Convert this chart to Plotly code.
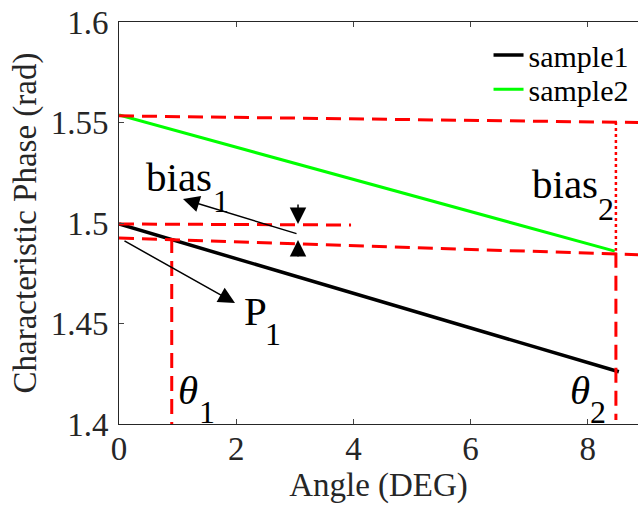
import plotly.graph_objects as go

# ---- data ----
angle_s1 = [0.0, 8.53]
phase_s1 = [1.4995, 1.426]
angle_s2 = [0.0, 8.46]
phase_s2 = [1.5537, 1.486]

# reference (guide) lines
upper_x = [0.0, 8.86]
upper_y = [1.5533, 1.5500]
bias1_x = [0.0, 3.96]
bias1_y = [1.4995, 1.4990]
lower_x = [0.0, 8.86]
lower_y = [1.4925, 1.4842]
theta1_x = [0.90, 0.90]
theta1_y = [1.4925, 1.400]
theta2_x = [8.48, 8.48]
theta2_y = [1.4852, 1.402]
bias2_x = [8.48, 8.48]
bias2_y = [1.5502, 1.4862]

x_ticks = [0, 2, 4, 6, 8]
y_ticks = [1.4, 1.45, 1.5, 1.55, 1.6]
y_tick_labels = ["1.4", "1.45", "1.5", "1.55", "1.6"]

FONT = "Liberation Serif"
RED = "#ff0000"
AX = "#262626"

fig = go.Figure()
fig.add_trace(go.Scatter(x=angle_s1, y=phase_s1, mode="lines", name="sample1", legend="legend",
                         line=dict(color="black", width=3.5)))
fig.add_trace(go.Scatter(x=angle_s2, y=phase_s2, mode="lines", name="sample2", legend="legend2",
                         line=dict(color="#00ff00", width=3)))

dash = "15px,8px"
for xs, ys, d in [(upper_x, upper_y, dash), (bias1_x, bias1_y, dash), (lower_x, lower_y, dash),
                  (theta1_x, theta1_y, dash), (theta2_x, theta2_y, dash)]:
    fig.add_trace(go.Scatter(x=xs, y=ys, mode="lines", showlegend=False, hoverinfo="skip",
                             line=dict(color=RED, width=3, dash=d)))
fig.add_trace(go.Scatter(x=bias2_x, y=bias2_y, mode="lines", showlegend=False, hoverinfo="skip",
                         line=dict(color=RED, width=2.5, dash="3px,3px")))

ann = []
def arrow(tx, ty, hx, hy):
    ann.append(dict(x=hx, y=hy, ax=tx, ay=ty, xref="x", yref="y", axref="x", ayref="y",
                    text="", showarrow=True, arrowhead=2, arrowsize=2.2, arrowwidth=1.5,
                    arrowcolor="black"))

arrow(3.055, 1.4945, 1.092, 1.5119)
arrow(3.055, 1.5100, 3.055, 1.4995)
arrow(3.055, 1.4826, 3.055, 1.4915)
arrow(0.068, 1.4915, 1.98, 1.4602)

def txt(x, y, t, size):
    ann.append(dict(x=x, y=y, xref="x", yref="y", text=t, showarrow=False,
                    font=dict(family=FONT, size=size, color="black")))

big, small = 41, 32
txt(1.024, 1.5229, "bias", big)
txt(1.741, 1.5109, "1", small)
txt(7.611, 1.5195, "bias", big)
txt(8.311, 1.5070, "2", small)
txt(2.321, 1.4562, "P", big)
txt(2.628, 1.4448, "1", small)
txt(1.177, 1.4169, "<i>θ</i>", big)
txt(1.502, 1.4060, "1", small)
txt(7.867, 1.4169, "<i>θ</i>", big)
txt(8.174, 1.4060, "2", small)

leg_common = dict(xanchor="left", yanchor="middle",
                  font=dict(family=FONT, size=30, color="black"),
                  bgcolor="rgba(0,0,0,0)", itemwidth=30)

fig.update_layout(
    width=638, height=513,
    margin=dict(l=119, r=0, t=22, b=89),
    paper_bgcolor="white", plot_bgcolor="white",
    font=dict(family=FONT, color=AX),
    annotations=ann,
    showlegend=True,
    legend=dict(x=0.712, y=0.918, **leg_common),
    legend2=dict(x=0.712, y=0.833, **leg_common),
    xaxis=dict(range=[0, 8.857], tickvals=x_ticks, ticks="inside", ticklen=5,
               showline=True, linecolor=AX, linewidth=1, mirror="ticks",
               showgrid=False, zeroline=False, automargin=False, ticklabelstandoff=-5,
               tickfont=dict(family=FONT, size=33, color=AX),
               title=dict(text="Angle (DEG)", font=dict(family=FONT, size=33, color=AX), standoff=0)),
    yaxis=dict(range=[1.4, 1.6], tickvals=y_ticks, ticktext=y_tick_labels, ticks="inside", ticklen=5,
               showline=True, linecolor=AX, linewidth=1, automargin=False,
               showgrid=False, zeroline=False, ticklabelstandoff=3, ticklabeloverflow="allow",
               tickfont=dict(family=FONT, size=33, color=AX),
               title=dict(text="Characteristic Phase (rad)", font=dict(family=FONT, size=33, color=AX), standoff=4)),
)

# remove the browser's default 8px body margin so the figure sits at the page origin
fig.write_html("out.html", config={"displayModeBar": False},
               post_script="document.body.style.margin='0';")
